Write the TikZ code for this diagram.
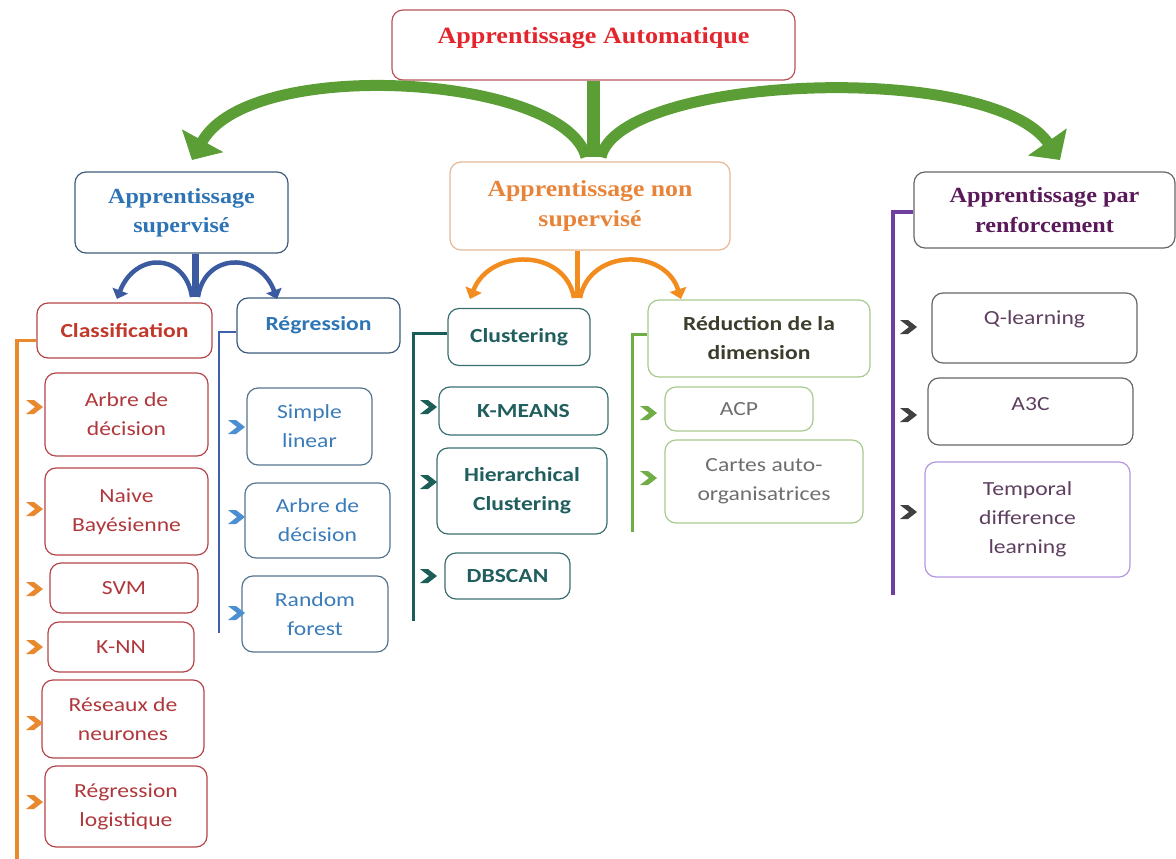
\documentclass[tikz,border=0pt]{standalone}
\usepackage{fontspec}
\setmainfont{Carlito}
\newfontfamily\itemfont[FakeStretch=1.18]{Carlito}
\newfontfamily\headfont[FakeStretch=1.12]{Liberation Serif}
\usetikzlibrary{arrows.meta}
\definecolor{tred}{HTML}{E3262E}
\definecolor{tredb}{HTML}{B5545A}
\definecolor{agreen}{HTML}{5A9E35}
\definecolor{sblue}{HTML}{2E74B5}
\definecolor{sblueb}{HTML}{3E5C7A}
\definecolor{nsor}{HTML}{E8843A}
\definecolor{nsorb}{HTML}{E5B896}
\definecolor{rpur}{HTML}{5A1A5A}
\definecolor{grayb}{HTML}{666666}
\definecolor{abl}{HTML}{3B5AA0}
\definecolor{aor}{HTML}{F28C1E}
\definecolor{cred}{HTML}{C0392B}
\definecolor{credb}{HTML}{B5454A}
\definecolor{itred}{HTML}{B0383C}
\definecolor{olinec}{HTML}{E8892E}
\definecolor{rblue}{HTML}{2E75B6}
\definecolor{rblueb}{HTML}{56758F}
\definecolor{itblue}{HTML}{3A7BBA}
\definecolor{blinec}{HTML}{3F5FAA}
\definecolor{bchev}{HTML}{4A90D0}
\definecolor{tealc}{HTML}{1B5E57}
\definecolor{tealt}{HTML}{215E5E}
\definecolor{tealb}{HTML}{3A6E6E}
\definecolor{redt}{HTML}{3D3D2D}
\definecolor{greenb}{HTML}{A6CA8E}
\definecolor{glinec}{HTML}{70AD47}
\definecolor{gtext}{HTML}{6E6E6E}
\definecolor{plinec}{HTML}{7040A0}
\definecolor{ptext}{HTML}{5E3F60}
\definecolor{pbord}{HTML}{B496DE}
\definecolor{dchev}{HTML}{404040}
\begin{document}
\begin{tikzpicture}[x=1pt,y=-1pt,
  box/.style={draw, rounded corners=11pt, line width=1.2pt, align=center, inner sep=0pt},
  item/.style={box, font=\itemfont\fontsize{20}{29}\selectfont},
  itemb/.style={box, font=\itemfont\bfseries\fontsize{20}{29}\selectfont},
  head/.style={box, font=\headfont\bfseries\fontsize{21.5}{29}\selectfont},
  chev/.pic={\fill (-17,-7) -- (-9,-7) -- (0,0) -- (-9,7) -- (-17,7) -- (-8,0) -- cycle;},
  garrow/.style={draw=agreen, line width=11pt, -{Triangle[width=46pt,length=22pt]}},
  barrow/.style={draw=abl, line width=4.5pt, -{Triangle[width=16pt,length=9pt]}},
  oarrow/.style={draw=aor, line width=4.5pt, -{Triangle[width=17pt,length=10pt]}},
]
\useasboundingbox (0,0) rectangle (1176,859);

% ---------- headers ----------
\node[box, draw=tredb, text=tred, minimum width=403pt, minimum height=70pt,
      font=\headfont\bfseries\fontsize{23.3}{28}\selectfont, text depth=19pt]
      (top) at (593.5,45) {Apprentissage Automatique};
\node[head, draw=sblueb, text=sblue, minimum width=213pt, minimum height=81pt]
      (sup) at (181.5,212.5) {Apprentissage\\supervisé};
\node[head, draw=nsorb, text=nsor, minimum width=280pt, minimum height=88pt,
      font=\headfont\bfseries\fontsize{23}{30}\selectfont]
      (nonsup) at (590,206) {Apprentissage non\\supervisé};
\node[head, draw=grayb, text=rpur, minimum width=261pt, minimum height=76pt,
      font=\headfont\bfseries\fontsize{21.6}{30}\selectfont]
      (renf) at (1044.5,210) {Apprentissage par\\renforcement};

% ---------- green arrows ----------
\coordinate (gj) at (593.5,157);
\coordinate (gL) at (192,160);
\coordinate (gR) at (1060,160);
\draw[draw=agreen, line width=13pt] (top.south) -- (gj);
\draw[garrow] (586,157) .. controls (565,75) and (250,55) .. (gL);
\draw[garrow] (601,157) .. controls (620,75) and (990,60) .. (gR);

% ---------- sub headers ----------
\node[itemb, draw=credb, text=cred, minimum width=175pt, minimum height=55pt]
      (classif) at (124.5,330.5) {Classification};
\node[itemb, draw=sblueb, text=rblue, minimum width=163pt, minimum height=55pt]
      (regr) at (318.5,325.5) {Régression};
\node[itemb, draw=tealb, text=tealt, minimum width=142pt, minimum height=57pt]
      (clust) at (519,337) {Clustering};
\node[itemb, draw=greenb, text=redt, minimum width=222pt, minimum height=77pt]
      (reduc) at (759,338.5) {Réduction de la\\dimension};

% ---------- blue arrows ----------
\coordinate (bj) at (195,297);
\coordinate (bL) at (117,299);
\coordinate (bR) at (277,299);
\draw[draw=abl, line width=7pt] (bj |- sup.south) -- (bj);
\draw[barrow] (192,297) .. controls (185,252) and (135,252) .. (bL);
\draw[barrow] (198,297) .. controls (205,252) and (260,252) .. (bR);

% ---------- orange arrows ----------
\coordinate (oj) at (577,298);
\coordinate (oL) at (470,299);
\coordinate (oR) at (681,299);
\draw[draw=aor, line width=5pt] (oj |- nonsup.south) -- (oj);
\draw[oarrow] (574,298) .. controls (565,248) and (490,248) .. (oL);
\draw[oarrow] (580,298) .. controls (590,248) and (665,248) .. (oR);

% ---------- classification ----------
\node[item, draw=credb, text=itred, minimum width=163pt, minimum height=83pt] (c1) at (126.5,414.5) {Arbre de\\décision};
\node[item, draw=credb, text=itred, minimum width=163pt, minimum height=87pt] (c2) at (126.5,511.5) {Naive\\Bayésienne};
\node[item, draw=credb, text=itred, minimum width=148pt, minimum height=50pt] (c3) at (124,588) {SVM};
\node[item, draw=credb, text=itred, minimum width=146pt, minimum height=50pt] (c4) at (121,647) {K-NN};
\node[item, draw=credb, text=itred, minimum width=162pt, minimum height=78pt] (c5) at (123,719) {Réseaux de\\neurones};
\node[item, draw=credb, text=itred, minimum width=162pt, minimum height=81pt] (c6) at (126,806.5) {Régression\\logistique};
\coordinate (obot) at (17,859);
\draw[draw=olinec, line width=3.5pt] ([yshift=-10pt]classif.west) -| (obot);
\foreach \yy in {407,509,589,647,723,802} \pic[fill=olinec] at (43,\yy) {chev};

% ---------- regression ----------
\node[item, draw=rblueb, text=itblue, minimum width=125pt, minimum height=77pt] (r1) at (309.5,426.5) {Simple\\linear};
\node[item, draw=rblueb, text=itblue, minimum width=145pt, minimum height=75pt] (r2) at (317.5,520.5) {Arbre de\\décision};
\node[item, draw=rblueb, text=itblue, minimum width=146pt, minimum height=76pt] (r3) at (315,614) {Random\\forest};
\coordinate (bbot) at (219,633);
\draw[draw=blinec, line width=2.2pt] ([yshift=-6.5pt]regr.west) -| (bbot);
\foreach \yy in {427,517,613} \pic[fill=bchev] at (245,\yy) {chev};

% ---------- clustering ----------
\node[itemb, draw=tealb, text=tealt, minimum width=169pt, minimum height=48pt] (k1) at (523.5,411) {K-MEANS};
\node[itemb, draw=tealb, text=tealt, minimum width=170pt, minimum height=86pt] (k2) at (522,491) {Hierarchical\\Clustering};
\node[itemb, draw=tealb, text=tealt, minimum width=125pt, minimum height=46pt] (k3) at (507.5,576) {DBSCAN};
\coordinate (tbot) at (413,621);
\draw[draw=tealc, line width=3pt] ([yshift=4pt]clust.west) -| (tbot);
\foreach \yy in {407,482,576} \pic[fill=tealc] at (437,\yy) {chev};

% ---------- reduction ----------
\node[item, draw=greenb, text=gtext, minimum width=148pt, minimum height=44pt] (d1) at (739,409) {ACP};
\node[item, draw=greenb, text=gtext, minimum width=198pt, minimum height=83pt] (d2) at (764,481.5) {Cartes auto-\\organisatrices};
\coordinate (dbot) at (632,532);
\draw[draw=glinec, line width=3pt] ([yshift=4.5pt]reduc.west) -| (dbot);
\foreach \yy in {413,478} \pic[fill=glinec] at (657,\yy) {chev};

% ---------- renforcement ----------
\node[item, draw=grayb, text=ptext, minimum width=205pt, minimum height=70pt, text depth=21pt] (q1) at (1034.5,328) {Q-learning};
\node[item, draw=grayb, text=ptext, minimum width=205pt, minimum height=67pt, text depth=14pt] (q2) at (1030.5,411.5) {A3C};
\node[item, draw=pbord, text=ptext, minimum width=205pt, minimum height=115pt] (q3) at (1027.5,519.5) {Temporal\\difference\\learning};
\coordinate (pbot) at (893,595);
\draw[draw=plinec, line width=3.5pt] ([yshift=-2pt]renf.west) -| (pbot);
\foreach \yy in {327,415,512} \pic[fill=dchev] at (917,\yy) {chev};
\end{tikzpicture}
\end{document}
